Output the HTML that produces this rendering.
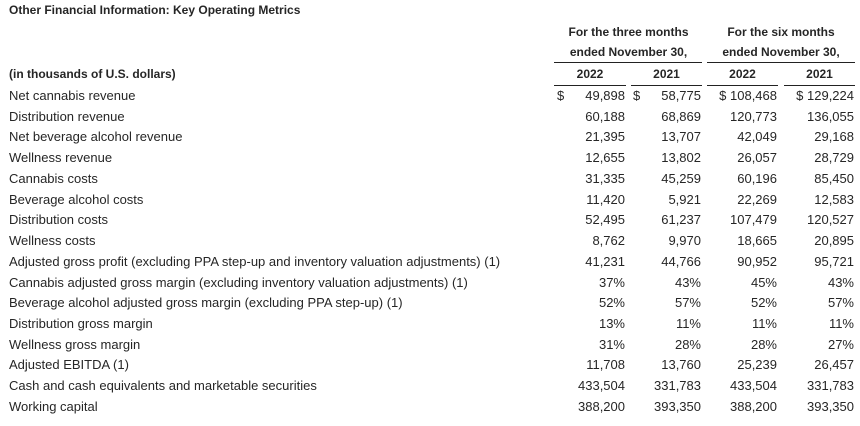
<!DOCTYPE html>
<html><head><meta charset="utf-8"><style>
body{margin:0;width:860px;height:426px;background:#fff;font-family:"Liberation Sans",Arial,sans-serif;font-size:13px;color:#262626;position:relative;overflow:hidden}
div{position:absolute;white-space:nowrap;line-height:20px}
.b{font-weight:bold;font-size:12px}
.r{text-align:right}
.c{text-align:center}
.ln{height:0;border-top:1.5px solid #222}
</style></head><body>
<div class="b" style="left:9px;top:0px">Other Financial Information: Key Operating Metrics</div>
<div class="b c" style="left:555px;width:147px;top:22px">For the three months</div>
<div class="b c" style="left:555px;width:147px;top:42px">ended November 30,</div>
<div class="b c" style="left:707px;width:148px;top:22px">For the six months</div>
<div class="b c" style="left:707px;width:148px;top:42px">ended November 30,</div>
<div class="ln" style="left:554px;width:148px;top:62px"></div>
<div class="ln" style="left:707px;width:148px;top:62px"></div>
<div class="b" style="left:9px;top:64px">(in thousands of U.S. dollars)</div>
<div class="b c" style="left:554px;width:72px;top:64px">2022</div>
<div class="b c" style="left:631px;width:71px;top:64px">2021</div>
<div class="b c" style="left:707px;width:71px;top:64px">2022</div>
<div class="b c" style="left:784px;width:71px;top:64px">2021</div>
<div class="ln" style="left:554px;width:72px;top:85px"></div>
<div class="ln" style="left:631px;width:71px;top:85px"></div>
<div class="ln" style="left:707px;width:71px;top:85px"></div>
<div class="ln" style="left:784px;width:71px;top:85px"></div>
<div id="rows"></div>
<script>
var rows=[
["Net cannabis revenue","$|49,898","$|58,775","$ 108,468","$ 129,224"],
["Distribution revenue","60,188","68,869","120,773","136,055"],
["Net beverage alcohol revenue","21,395","13,707","42,049","29,168"],
["Wellness revenue","12,655","13,802","26,057","28,729"],
["Cannabis costs","31,335","45,259","60,196","85,450"],
["Beverage alcohol costs","11,420","5,921","22,269","12,583"],
["Distribution costs","52,495","61,237","107,479","120,527"],
["Wellness costs","8,762","9,970","18,665","20,895"],
["Adjusted gross profit (excluding PPA step-up and inventory valuation adjustments) (1)","41,231","44,766","90,952","95,721"],
["Cannabis adjusted gross margin (excluding inventory valuation adjustments) (1)","37%","43%","45%","43%"],
["Beverage alcohol adjusted gross margin (excluding PPA step-up) (1)","52%","57%","52%","57%"],
["Distribution gross margin","13%","11%","11%","11%"],
["Wellness gross margin","31%","28%","28%","27%"],
["Adjusted EBITDA (1)","11,708","13,760","25,239","26,457"],
["Cash and cash equivalents and marketable securities","433,504","331,783","433,504","331,783"],
["Working capital","388,200","393,350","388,200","393,350"]];
var rights=[625,701,777,854],lefts=[557,633,709,786],h="";
rows.forEach(function(r,i){var t=86+i*20.73;
h+='<div style="left:9px;top:'+t+'px">'+r[0]+'</div>';
for(var j=0;j<4;j++){var v=r[j+1];
if(v.indexOf("|")>=0){var p=v.split("|");h+='<div style="left:'+lefts[j]+'px;top:'+t+'px">'+p[0]+'</div>';v=p[1];}
h+='<div class="r" style="left:'+(rights[j]-80)+'px;width:80px;top:'+t+'px">'+v+'</div>';}
});
document.getElementById("rows").outerHTML=h;
</script>
</body></html>
